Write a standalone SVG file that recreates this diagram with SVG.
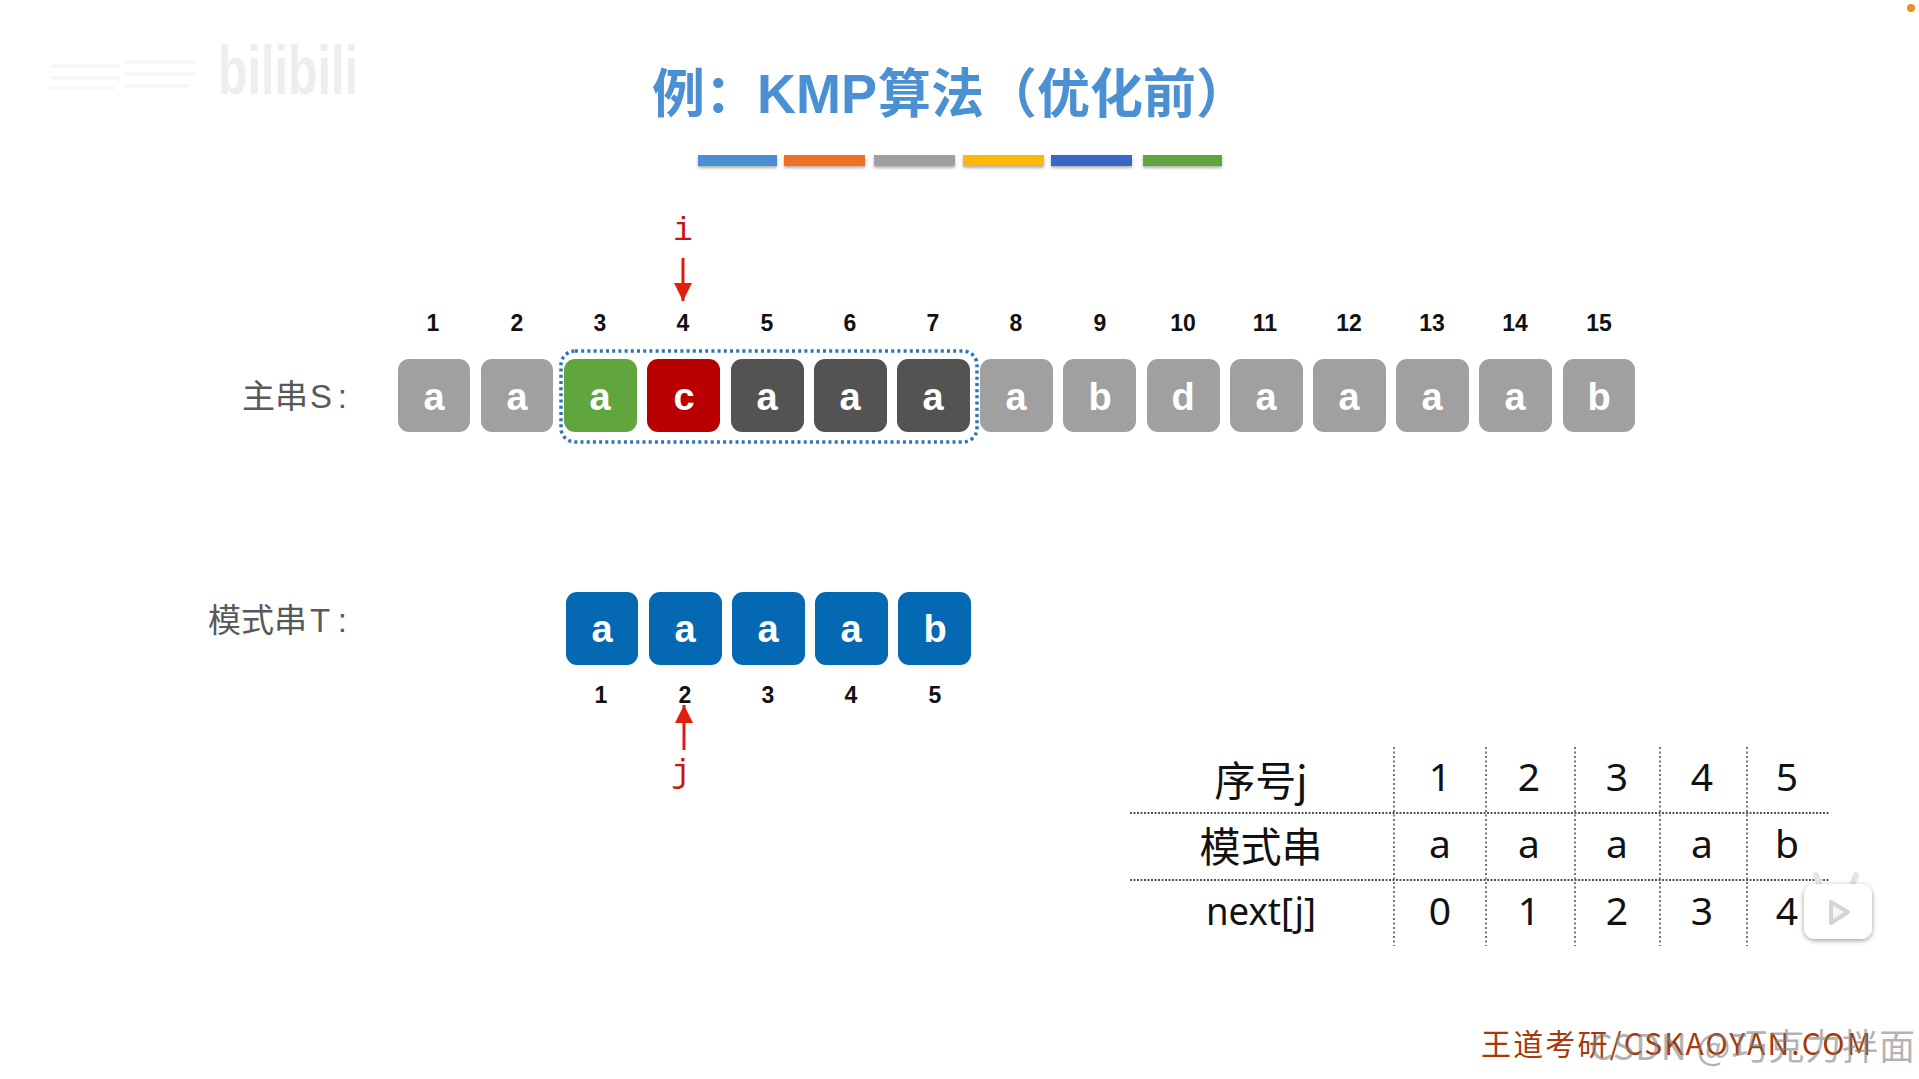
<svg xmlns="http://www.w3.org/2000/svg" width="1919" height="1079" viewBox="0 0 1919 1079">
<defs>
<style>
.box{rx:11px;ry:11px}
.gy{fill:#a0a0a0}.dk{fill:#535353}.bl{fill:#0468b3}
.ch{font:bold 38px "Liberation Sans",Arial,sans-serif;fill:#fff;text-anchor:middle}
.n{font:bold 23px "Liberation Sans",Arial,sans-serif;fill:#111;text-anchor:middle}
.lb{font:33px "Noto Sans CJK SC","Liberation Sans",sans-serif;fill:#595959}
.lbl{font:33px "Liberation Sans",sans-serif;fill:#595959}
.t{font:39px "Noto Sans","Noto Sans CJK SC",sans-serif;fill:#111;text-anchor:middle}
.tc{font:41px "Noto Sans CJK SC",sans-serif;fill:#111;text-anchor:middle}
.v{stroke:#555;stroke-width:1.6;stroke-dasharray:2 2.5;fill:none}
.h{stroke:#555;stroke-width:2;stroke-dasharray:2 1.5;fill:none}
.ptr{font:33px "Liberation Mono",monospace;fill:#c8160c;text-anchor:middle}
.arr{stroke:#d81e0c;stroke-width:3;fill:none}
.ttl{font:bold 53px "Noto Sans CJK SC","Liberation Sans",sans-serif;fill:#4a90d2}
.ttk{font:bold 55px "Liberation Sans",sans-serif;fill:#4a90d2}
</style>
<marker id="ah" markerUnits="userSpaceOnUse" markerWidth="20" markerHeight="22" refX="18" refY="9" orient="auto"><path d="M0 0L18 9L0 18Z" fill="#e0200c"/></marker>
<filter id="sh" x="-10%" y="-60%" width="120%" height="260%"><feDropShadow dx="0" dy="2" stdDeviation="1.5" flood-color="#000" flood-opacity=".3"/></filter>
<filter id="sh2" x="-30%" y="-30%" width="160%" height="160%"><feDropShadow dx="0" dy="1.5" stdDeviation="2.5" flood-color="#000" flood-opacity=".4"/></filter>
</defs>
<rect width="1919" height="1079" fill="#fff"/>

<g id="watermark-top">
<path d="M50 66H120M50 78H120M50 88H115M125 62H195M125 74H195M125 86H190" stroke="#f6f6f6" stroke-width="3" fill="none"/>
<text x="218" y="94" style="font:bold 68px 'Liberation Sans',sans-serif" fill="#eeeeee" textLength="140" lengthAdjust="spacingAndGlyphs">bilibili</text>
</g>
<circle id="dot" cx="1911" cy="8" r="4" fill="#f08a24"/>

<g id="title">
<text class="ttl" x="652" y="113">例：</text>
<text class="ttk" x="757" y="113" textLength="120" lengthAdjust="spacingAndGlyphs">KMP</text>
<text class="ttl" x="878" y="113">算法（优化前）</text>
<g filter="url(#sh)">
<rect x="698" y="155" width="79" height="11" fill="#4a90d2"/>
<rect x="784" y="155" width="81" height="11" fill="#f07125"/>
<rect x="874" y="155" width="81" height="11" fill="#a0a0a0"/>
<rect x="963" y="155" width="81" height="11" fill="#ffb70a"/>
<rect x="1051" y="155" width="81" height="11" fill="#3b66c3"/>
<rect x="1143" y="155" width="79" height="11" fill="#61a53e"/>
</g>
</g>

<g id="label-s"><text class="lb" x="242" y="408">主串</text><text class="lbl" x="310" y="408" textLength="37" lengthAdjust="spacing">S:</text></g>
<g id="label-t"><text class="lb" x="208" y="632">模式串</text><text class="lbl" x="310" y="632" textLength="37" lengthAdjust="spacing">T:</text></g>

<g id="s1"><rect class="box gy" x="398" y="359" width="72" height="73"/><text class="ch" x="434" y="410">a</text><text class="n" x="433" y="331">1</text></g>
<g id="s2"><rect class="box gy" x="481" y="359" width="72" height="73"/><text class="ch" x="517" y="410">a</text><text class="n" x="517" y="331">2</text></g>
<g id="s3"><rect class="box" fill="#61a53e" x="564" y="359" width="73" height="73"/><text class="ch" x="600" y="410">a</text><text class="n" x="600" y="331">3</text></g>
<g id="s4"><rect class="box" fill="#b80000" x="647" y="359" width="73" height="73"/><text class="ch" x="684" y="410">c</text><text class="n" x="683" y="331">4</text></g>
<g id="s5"><rect class="box dk" x="731" y="359" width="73" height="73"/><text class="ch" x="767" y="410">a</text><text class="n" x="767" y="331">5</text></g>
<g id="s6"><rect class="box dk" x="814" y="359" width="73" height="73"/><text class="ch" x="850" y="410">a</text><text class="n" x="850" y="331">6</text></g>
<g id="s7"><rect class="box dk" x="897" y="359" width="73" height="73"/><text class="ch" x="933" y="410">a</text><text class="n" x="933" y="331">7</text></g>
<g id="s8"><rect class="box gy" x="980" y="359" width="73" height="73"/><text class="ch" x="1016" y="410">a</text><text class="n" x="1016" y="331">8</text></g>
<g id="s9"><rect class="box gy" x="1063" y="359" width="73" height="73"/><text class="ch" x="1100" y="410">b</text><text class="n" x="1100" y="331">9</text></g>
<g id="s10"><rect class="box gy" x="1147" y="359" width="73" height="73"/><text class="ch" x="1183" y="410">d</text><text class="n" x="1183" y="331">10</text></g>
<g id="s11"><rect class="box gy" x="1230" y="359" width="73" height="73"/><text class="ch" x="1266" y="410">a</text><text class="n" x="1265" y="331">11</text></g>
<g id="s12"><rect class="box gy" x="1313" y="359" width="73" height="73"/><text class="ch" x="1349" y="410">a</text><text class="n" x="1349" y="331">12</text></g>
<g id="s13"><rect class="box gy" x="1396" y="359" width="73" height="73"/><text class="ch" x="1432" y="410">a</text><text class="n" x="1432" y="331">13</text></g>
<g id="s14"><rect class="box gy" x="1479" y="359" width="73" height="73"/><text class="ch" x="1515" y="410">a</text><text class="n" x="1515" y="331">14</text></g>
<g id="s15"><rect class="box gy" x="1563" y="359" width="72" height="73"/><text class="ch" x="1599" y="410">b</text><text class="n" x="1599" y="331">15</text></g>

<g id="window"><rect x="561" y="351" width="416" height="91" rx="14" fill="none" stroke="#2e75b6" stroke-width="3.5" stroke-dasharray="3 3.2"/></g>

<g id="t1"><rect class="box bl" x="566" y="592" width="72" height="73"/><text class="ch" x="602" y="642">a</text><text class="n" x="601" y="703">1</text></g>
<g id="t2"><rect class="box bl" x="649" y="592" width="73" height="73"/><text class="ch" x="685" y="642">a</text><text class="n" x="685" y="703">2</text></g>
<g id="t3"><rect class="box bl" x="732" y="592" width="73" height="73"/><text class="ch" x="768" y="642">a</text><text class="n" x="768" y="703">3</text></g>
<g id="t4"><rect class="box bl" x="815" y="592" width="73" height="73"/><text class="ch" x="851" y="642">a</text><text class="n" x="851" y="703">4</text></g>
<g id="t5"><rect class="box bl" x="898" y="592" width="73" height="73"/><text class="ch" x="935" y="642">b</text><text class="n" x="935" y="703">5</text></g>

<g id="pointer-i"><text class="ptr" x="683" y="240">i</text></g>
<g id="pointer-j"><text class="ptr" x="681" y="782">j</text></g>
<g id="connectors">
<line class="arr" x1="683" y1="258" x2="683" y2="301" marker-end="url(#ah)"/>
<line class="arr" x1="684" y1="750" x2="684" y2="705" marker-end="url(#ah)"/>
</g>

<g id="table">
<path class="h" d="M1130 813H1829M1130 880H1829"/>
<path class="v" d="M1394 747V946M1486 747V946M1575 747V946M1660 747V946M1747 747V946"/>
<text class="tc" x="1261" y="796">序号j</text><text class="t" x="1440" y="791">1</text><text class="t" x="1529" y="791">2</text><text class="t" x="1617" y="791">3</text><text class="t" x="1702" y="791">4</text><text class="t" x="1787" y="791">5</text>
<text class="tc" x="1261" y="862">模式串</text><text class="t" x="1440" y="858">a</text><text class="t" x="1529" y="858">a</text><text class="t" x="1617" y="858">a</text><text class="t" x="1702" y="858">a</text><text class="t" x="1787" y="858">b</text>
<text class="t" x="1261" y="925" textLength="110" lengthAdjust="spacingAndGlyphs">next[j]</text><text class="t" x="1440" y="925">0</text><text class="t" x="1529" y="925">1</text><text class="t" x="1617" y="925">2</text><text class="t" x="1702" y="925">3</text><text class="t" x="1787" y="925">4</text>
</g>

<g id="play-icon">
<path d="M1821 888l-5-13M1851 888l5-13" stroke="#e4e4e4" stroke-width="6" stroke-linecap="round"/>
<rect x="1804" y="884" width="68" height="55" rx="11" fill="#fff" filter="url(#sh2)"/>
<path d="M1831 902L1848 912L1831 923Z" fill="#f6f6f6" stroke="#d4d4d4" stroke-width="4" stroke-linejoin="round"/>
</g>

<g id="footer">
<text x="1481" y="1055" style="font:30px 'Noto Sans CJK SC','Liberation Sans',sans-serif" fill="#a63a0a" textLength="390">王道考研/CSKAOYAN.COM</text>
<text x="1590" y="1060" style="font:36px 'Noto Sans CJK SC','Liberation Sans',sans-serif" fill="#808080" fill-opacity=".6" textLength="325">CSDN @巧克力拌面</text>
</g>
</svg>
